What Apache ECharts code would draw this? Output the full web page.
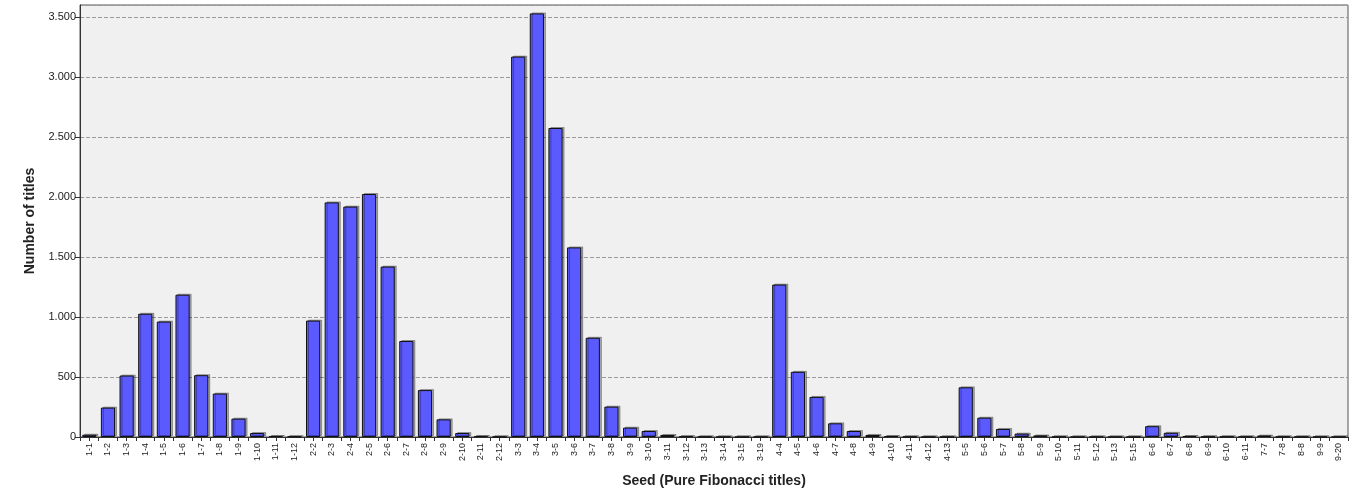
<!DOCTYPE html>
<html><head><meta charset="utf-8">
<script src="https://cdn.jsdelivr.net/npm/echarts@6/dist/echarts.min.js"></script>
<style>html,body{margin:0;padding:0;background:#fff}#c{width:1360px;height:500px}</style>
</head><body><div id="c"></div>
<script>
const categories = [
 '1-1','1-2','1-3','1-4','1-5','1-6','1-7','1-8','1-9','1-10','1-11','1-12',
 '2-2','2-3','2-4','2-5','2-6','2-7','2-8','2-9','2-10','2-11','2-12',
 '3-3','3-4','3-5','3-6','3-7','3-8','3-9','3-10','3-11','3-12','3-13','3-14','3-15','3-19',
 '4-4','4-5','4-6','4-7','4-8','4-9','4-10','4-11','4-12','4-13',
 '5-5','5-6','5-7','5-8','5-9','5-10','5-11','5-12','5-13','5-15',
 '6-6','6-7','6-8','6-9','6-10','6-11',
 '7-7','7-8','8-8','9-9','9-20'
];
const titles = [
 19,245,512,1027,962,1186,515,362,153,33,8,4,
 970,1955,1920,2025,1420,800,391,147,33,8,2,
 3170,3530,2575,1580,827,253,78,50,17,5,2,1,1,1,
 1270,543,334,114,50,17,8,2,1,1,
 414,161,67,28,13,2,1,1,1,1,
 90,35,8,3,3,2,
 12,2,2,1,1
];
const yTicks = {min:0, max:3600, interval:500};

const fmt = v => {
  if (v < 1000) return String(v);
  const s = String(v);
  return s.slice(0, s.length-3) + '.' + s.slice(s.length-3);
};
const font = 'Liberation Sans, Arial, sans-serif';
const chart = echarts.init(document.getElementById('c'), null, {renderer:'canvas'});
chart.setOption({
  animation:false,
  grid:{left:80,right:12,top:5,bottom:63,show:true,backgroundColor:'#f0f0f0',borderColor:'#555',borderWidth:1},
  xAxis:[{
    type:'category', data:categories,
    name:'Seed (Pure Fibonacci titles)', nameLocation:'middle', nameGap:37,
    nameTextStyle:{fontFamily:font,fontSize:14,fontWeight:'bold',color:'#222'},
    axisLine:{lineStyle:{color:'#333',width:1}},
    axisTick:{show:true,length:4,lineStyle:{color:'#333'}},
    axisLabel:{interval:0,rotate:90,fontFamily:font,fontSize:9,color:'#222',margin:6}
  },{
    type:'category', data:categories, position:'bottom',
    axisLine:{show:false},
    axisTick:{show:true,alignWithLabel:true,length:4,lineStyle:{color:'#333'}},
    axisLabel:{show:false}
  }],
  yAxis:{
    type:'value', min:yTicks.min, max:yTicks.max, interval:yTicks.interval,
    name:'Number of titles', nameLocation:'middle', nameGap:43,
    nameTextStyle:{fontFamily:font,fontSize:14,fontWeight:'bold',color:'#222'},
    axisLine:{show:true,lineStyle:{color:'#333'}},
    axisTick:{show:true,length:5,lineStyle:{color:'#333'}},
    axisLabel:{showMaxLabel:false,formatter:fmt,fontFamily:font,fontSize:11,color:'#222',margin:4},
    splitLine:{show:true,lineStyle:{color:'#999',type:'dashed',width:1}}
  },
  series:[{
    type:'bar', data:titles, xAxisIndex:0, barCategoryGap:'24%',
    itemStyle:{color:'#5a5aff',borderColor:'#111',borderWidth:1,
      shadowColor:'rgba(0,0,0,0.3)',shadowOffsetX:2,shadowOffsetY:-1,shadowBlur:0}
  }]
});
</script></body></html>
